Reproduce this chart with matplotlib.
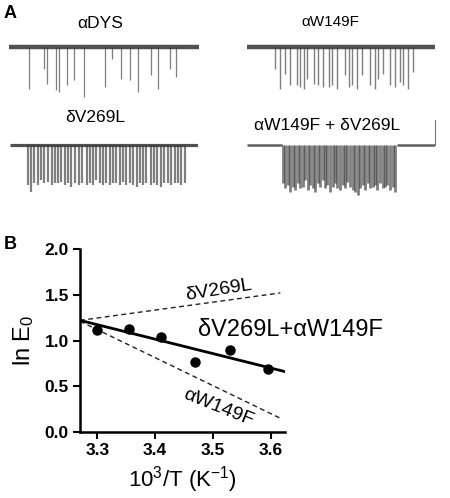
import matplotlib
matplotlib.use("Agg")
import matplotlib.pyplot as plt

plt.rcParams['font.family'] = ['Liberation Sans', 'DejaVu Sans']
plt.rcParams['mathtext.fontset'] = 'custom'
plt.rcParams['mathtext.rm'] = 'Liberation Sans'
plt.rcParams['mathtext.it'] = 'Liberation Sans:italic'

# ---- panel A: single-channel traces (event position as fraction of sweep, depth in px) ----
dys_pos = [0.105, 0.186, 0.202, 0.246, 0.263, 0.304, 0.342, 0.396, 0.505, 0.544,
           0.588, 0.639, 0.681, 0.746, 0.782, 0.846, 0.881]
dys_depth = [42, 22, 37, 43, 45, 38, 33, 50, 40, 12, 32, 33, 45, 28, 42, 22, 30]

w149_pos = [0.150, 0.173, 0.204, 0.230, 0.265, 0.283, 0.301, 0.319, 0.354, 0.375,
            0.404, 0.434, 0.451, 0.478, 0.522, 0.540, 0.558, 0.584, 0.611, 0.655,
            0.681, 0.699, 0.726, 0.761, 0.788, 0.814, 0.832, 0.858, 0.885]
w149_depth = [22, 42, 27, 38, 38, 40, 42, 32, 37, 38, 40, 40, 38, 42, 28, 40, 38, 42,
              28, 38, 42, 32, 27, 38, 40, 35, 38, 42, 25]

v269_pos = [0.094, 0.112, 0.129, 0.150, 0.165, 0.182, 0.204, 0.221, 0.239, 0.253,
            0.271, 0.292, 0.310, 0.327, 0.345, 0.366, 0.384, 0.407, 0.425, 0.442,
            0.460, 0.478, 0.496, 0.513, 0.531, 0.549, 0.566, 0.584, 0.602, 0.619,
            0.637, 0.655, 0.673, 0.690, 0.708, 0.726, 0.749, 0.766, 0.784, 0.802,
            0.819, 0.841, 0.858, 0.876, 0.894, 0.912, 0.929]
v269_depth = [40, 47, 38, 40, 35, 38, 37, 40, 38, 38, 37, 40, 38, 42, 38, 40, 38, 40,
              38, 40, 35, 38, 40, 38, 40, 38, 38, 40, 37, 40, 38, 40, 42, 38, 40, 38,
              40, 38, 40, 42, 38, 38, 40, 38, 38, 40, 38]

combo_pos = [0.191, 0.204, 0.216, 0.230, 0.244, 0.257, 0.269, 0.283, 0.297, 0.310,
             0.322, 0.336, 0.350, 0.363, 0.375, 0.389, 0.403, 0.416, 0.428, 0.442,
             0.457, 0.469, 0.481, 0.496, 0.510, 0.522, 0.534, 0.549, 0.563, 0.575,
             0.588, 0.602, 0.616, 0.628, 0.641, 0.655, 0.669, 0.681, 0.694, 0.708,
             0.722, 0.735, 0.747, 0.761, 0.775, 0.788]
combo_depth = [38, 43, 40, 47, 42, 45, 38, 43, 42, 35, 45, 40, 43, 47, 38, 42, 35,
               43, 40, 47, 42, 38, 43, 45, 40, 43, 37, 42, 45, 47, 50, 43, 40, 45,
               38, 43, 42, 40, 45, 38, 43, 42, 40, 45, 42, 47]
combo_burst = [0.186, 0.796]

trace_titles = ['αDYS', 'αW149F', 'δV269L', 'αW149F + δV269L']

# ---- panel B: temperature dependence ----
inv_T = [3.30, 3.355, 3.41, 3.47, 3.53, 3.595]
ln_E0 = [1.12, 1.13, 1.04, 0.76, 0.90, 0.685]
fit_x = [3.27, 3.625]
fit_y = [1.22, 0.66]
dash_x = [3.27, 3.617]
v269_fit = [1.22, 1.52]
w149_fit = [1.21, 0.15]

W, H = 450, 498
fig = plt.figure(figsize=(W / 100, H / 100), dpi=100)


def px_axes(left, top, width, height):
    return fig.add_axes([left / W, 1 - (top + height) / H, width / W, height / H])


def draw_trace(ax, pos, depth, lw, band, burst=None):
    ax.set_xlim(0, 1)
    ax.set_ylim(-55, 7)
    ax.axis('off')
    if burst is None:
        ax.plot([0, 1], [0, 0], color='#333333', lw=band, alpha=0.85, solid_capstyle='butt')
    else:
        ax.plot([0, burst[0]], [0, 0], color='#444444', lw=band, alpha=0.85, solid_capstyle='butt')
        ax.plot([burst[1], 1], [0, 0], color='#444444', lw=band, alpha=0.85, solid_capstyle='butt')
    ax.vlines(pos, [-d for d in depth], 0, color='#3a3a3a', lw=lw, alpha=0.65)


ax1 = px_axes(9, 40, 190, 62)
draw_trace(ax1, dys_pos, dys_depth, 0.9, 3.2)
ax2 = px_axes(247, 40, 188, 62)
draw_trace(ax2, w149_pos, w149_depth, 1.0, 3.2)
ax3 = px_axes(10, 138, 188, 62)
draw_trace(ax3, v269_pos, v269_depth, 1.6, 2.3)
ax4 = px_axes(247, 138, 188, 62)
draw_trace(ax4, combo_pos, combo_depth, 2.0, 1.8, burst=combo_burst)
ax4.plot([1, 1], [0, 25], color='#777777', lw=0.8, clip_on=False)

fig.text(100 / W, 1 - 23 / H, trace_titles[0], ha='center', va='center', fontsize=12.5)
fig.text(330 / W, 1 - 22 / H, trace_titles[1], ha='center', va='center', fontsize=11)
fig.text(95 / W, 1 - 117 / H, trace_titles[2], ha='center', va='center', fontsize=12.5)
fig.text(327 / W, 1 - 125 / H, trace_titles[3], ha='center', va='center', fontsize=12.5)

fig.text(4 / W, 1 - 13 / H, 'A', ha='left', va='center', fontsize=13, fontweight='bold')
fig.text(4 / W, 1 - 244 / H, 'B', ha='left', va='center', fontsize=13, fontweight='bold')

# ---- panel B axes ----
ax = px_axes(80, 249, 205, 183)
ax.plot(dash_x, v269_fit, color='#222222', lw=1.0, ls=(0, (3.5, 2.5)))
ax.plot(dash_x, w149_fit, color='#222222', lw=1.0, ls=(0, (3.5, 2.5)))
ax.plot(fit_x, fit_y, color='black', lw=2.0)
ax.plot(inv_T, ln_E0, 'o', color='black', ms=6.5)

ax.set_xlim(3.27, 3.625)
ax.set_ylim(0, 2.0)
ax.set_xticks([3.3, 3.4, 3.5, 3.6])
ax.set_yticks([0.0, 0.5, 1.0, 1.5, 2.0])
ax.set_xticklabels(['3.3', '3.4', '3.5', '3.6'], fontweight='bold', fontsize=12.5)
ax.set_yticklabels(['0.0', '0.5', '1.0', '1.5', '2.0'], fontweight='bold', fontsize=12.5)
for side in ['top', 'right']:
    ax.spines[side].set_visible(False)
for side in ['left', 'bottom']:
    ax.spines[side].set_linewidth(1.8)
ax.tick_params(direction='out', length=5, width=1.5, pad=3)
ax.set_xlabel('10$^3$/T (K$^{-1}$)', fontsize=16, labelpad=4)
ax.set_ylabel('ln E$_0$', fontsize=17, labelpad=6)

ax.text(3.51, 1.55, 'δV269L', ha='center', va='center', fontsize=14, rotation=9)
ax.text(3.635, 1.115, 'δV269L+αW149F', ha='center', va='center', fontsize=17, clip_on=False)
ax.text(3.51, 0.27, 'αW149F', ha='center', va='center', fontsize=14, rotation=-22)

fig.savefig('out.png', dpi=100)
